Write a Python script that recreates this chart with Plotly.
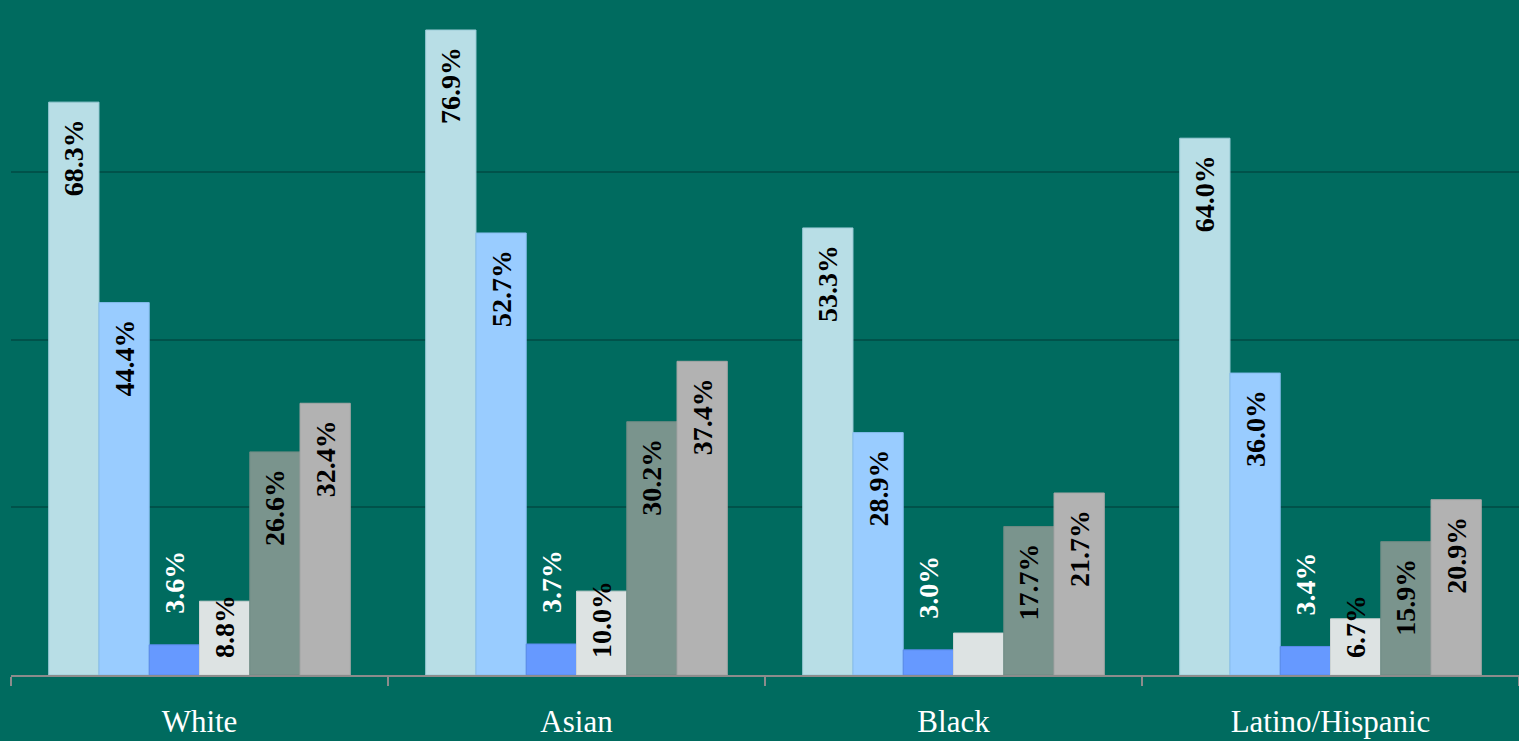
import plotly.graph_objects as go

categories = ["White", "Asian", "Black", "Latino/Hispanic"]
series_names = ["S1", "S2", "S3", "S4", "S5", "S6"]
values = [
    [68.3, 76.9, 53.3, 64.0],
    [44.4, 52.7, 28.9, 36.0],
    [3.6, 3.7, 3.0, 3.4],
    [8.8, 10.0, 5.0, 6.7],
    [26.6, 30.2, 17.7, 15.9],
    [32.4, 37.4, 21.7, 20.9],
]
labels = [
    ["68.3%", "76.9%", "53.3%", "64.0%"],
    ["44.4%", "52.7%", "28.9%", "36.0%"],
    ["3.6%", "3.7%", "3.0%", "3.4%"],
    ["8.8%", "10.0%", "", "6.7%"],
    ["26.6%", "30.2%", "17.7%", "15.9%"],
    ["32.4%", "37.4%", "21.7%", "20.9%"],
]
colors = ["#B8DEE6", "#99CCFF", "#6699FF", "#DDE3E3", "#7A948D", "#B2B2B2"]
edge_colors = ["#9CCCD8", "#86BCEE", "#5A8AEA", "#CCD3D3", "#6E8A83", "#A6A6A6"]

BG = "#006B5F"
NB = "\u00a0"

fig = go.Figure()
for i, name in enumerate(series_names):
    if i == 2:
        pos, anchor, col = "outside", "end", "#FFFFFF"
        txt = [NB * 4 + t if t else "" for t in labels[i]]
    elif i == 3:
        pos, anchor, col = "inside", "start", "#000000"
        txt = [NB * 2 + t if t else "" for t in labels[i]]
    else:
        pos, anchor, col = "inside", "end", "#000000"
        txt = [t + NB * 2 if t else "" for t in labels[i]]
    fig.add_trace(go.Bar(
        x=categories,
        y=values[i],
        name=name,
        text=txt,
        textposition=pos,
        insidetextanchor=anchor,
        textangle=-90,
        cliponaxis=False,
        constraintext="none",
        textfont=dict(family="Liberation Serif", size=28, color=col, weight="bold"),
        marker=dict(color=colors[i], line=dict(color=edge_colors[i], width=1)),
        showlegend=False,
    ))

fig.update_layout(
    width=1519, height=741,
    margin=dict(l=11, r=0, t=4, b=66),
    paper_bgcolor=BG, plot_bgcolor=BG,
    barmode="group", bargap=0.2, bargroupgap=0,
    font=dict(family="Liberation Serif", color="#FFFFFF"),
)
fig.update_xaxes(
    showline=True, linecolor="#8C8C8C", linewidth=2,
    ticks="outside", tickson="boundaries", ticklen=9, tickwidth=2, tickcolor="#8C8C8C",
    tickfont=dict(family="Liberation Serif", size=31, color="#FFFFFF"),
    ticklabelstandoff=18,
    showgrid=False,
)
fig.update_yaxes(
    range=[0, 80], dtick=20, showgrid=True, gridcolor="#00524A", gridwidth=2,
    showticklabels=False, zeroline=False, showline=False,
)

fig.write_html("out.html")
